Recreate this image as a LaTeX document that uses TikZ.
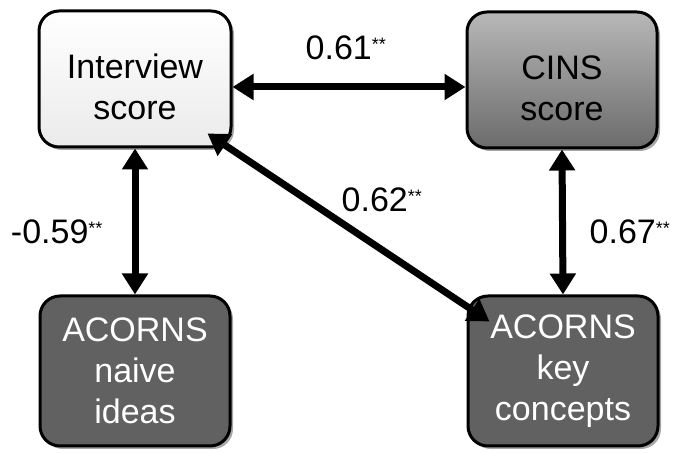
\documentclass[tikz,border=0pt]{standalone}
\usepackage{fontspec}
\setmainfont{Liberation Sans}
\usetikzlibrary{arrows.meta,shadows}
\tikzset{
  box/.style={draw=black, line width=3pt, rounded corners=20pt, align=center,
    font=\fontsize{34}{41}\selectfont, inner sep=0pt,
    drop shadow={shadow xshift=3pt, shadow yshift=-3pt, fill=black, opacity=0.35}},
  lightbox/.style={box, top color=white, bottom color=black!8, text=black},
  midbox/.style={box, top color=black!28, bottom color=black!58, text=black},
  darkbox/.style={box, fill=black!62, text=white},
  arr/.style={line width=7pt, {Triangle[length=21pt,width=25pt]}-{Triangle[length=21pt,width=25pt]}},
  lab/.style={font=\fontsize{34}{40}\selectfont, inner sep=0pt}
}
\newcommand{\st}{\textsuperscript{\fontsize{18}{18}\selectfont **}}
\newcommand{\tstrut}{\rule{0pt}{40pt}}
\begin{document}
\begin{tikzpicture}[x=1pt,y=1pt]
\useasboundingbox (0,0) rectangle (677,454);
\node[lightbox, minimum width=192pt, minimum height=136pt] (iv) at (135,375) {\tstrut Interview\\score};
\node[midbox, minimum width=190pt, minimum height=136pt] (cins) at (562,374) {\tstrut CINS\\score};
\node[darkbox, minimum width=190pt, minimum height=150pt] (naive) at (135,83) {ACORNS\\naive\\ideas};
\node[darkbox, minimum width=190pt, minimum height=150pt] (key) at (563,83) {ACORNS\\key\\concepts};
\coordinate (d1) at ([shift={(-25,15)}]iv.south east);
\coordinate (d2) at ([shift={(23,-27)}]key.north west);
\draw[arr] ([yshift=-8pt]iv.east) -- ([yshift=-7pt]cins.west);
\draw[arr] (iv.south) -- (naive.north);
\draw[arr] (cins.south) -- (key.north);
\draw[arr] (d1) -- (d2);
\node[lab] (l1) at (346,406) {0.61\st};
\node[lab] (l2) at (57,222) {-0.59\st};
\node[lab] (l3) at (630,222) {0.67\st};
\node[lab] (l4) at (382,254) {0.62\st};
\end{tikzpicture}
\end{document}
